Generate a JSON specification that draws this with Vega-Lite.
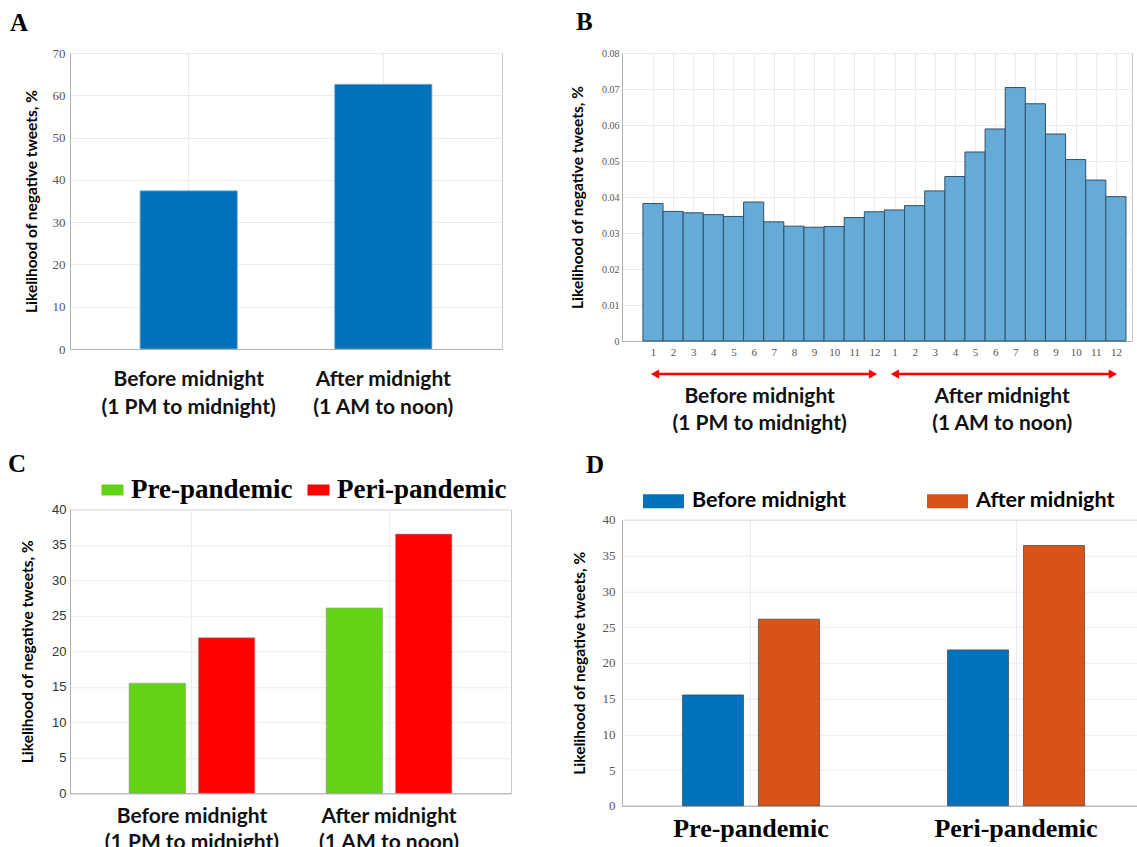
{
  "$schema": "https://vega.github.io/schema/vega-lite/v6.json",
  "background": "white",
  "padding": {"left": 7, "top": 9, "right": 0, "bottom": 0},
  "config": {
    "view": {"stroke": "#c8c8c8", "strokeWidth": 1},
    "axis": {"gridColor": "#ebebeb", "domainColor": "#b0b0b0", "ticks": false, "labelOverlap": false, "labelBound": false, "titleFont": "Lato", "titleFontWeight": "bold", "titleColor": "#000", "titleFontSize": 15.5},
    "title": {"font": "Liberation Serif", "fontWeight": "bold", "fontSize": 25, "color": "#000", "anchor": "start", "frame": "group"}
  },
  "datasets": {
    "overall": [
      {"period": "Before midnight", "likelihood": 37.4},
      {"period": "After midnight", "likelihood": 62.6}
    ],
    "hourly": [
      {"hour": 1, "bin_start": 0.5, "bin_end": 1.5, "likelihood": 0.0382},
      {"hour": 2, "bin_start": 1.5, "bin_end": 2.5, "likelihood": 0.0360},
      {"hour": 3, "bin_start": 2.5, "bin_end": 3.5, "likelihood": 0.0356},
      {"hour": 4, "bin_start": 3.5, "bin_end": 4.5, "likelihood": 0.0351},
      {"hour": 5, "bin_start": 4.5, "bin_end": 5.5, "likelihood": 0.0346},
      {"hour": 6, "bin_start": 5.5, "bin_end": 6.5, "likelihood": 0.0386},
      {"hour": 7, "bin_start": 6.5, "bin_end": 7.5, "likelihood": 0.0331},
      {"hour": 8, "bin_start": 7.5, "bin_end": 8.5, "likelihood": 0.0319},
      {"hour": 9, "bin_start": 8.5, "bin_end": 9.5, "likelihood": 0.0316},
      {"hour": 10, "bin_start": 9.5, "bin_end": 10.5, "likelihood": 0.0318},
      {"hour": 11, "bin_start": 10.5, "bin_end": 11.5, "likelihood": 0.0343},
      {"hour": 12, "bin_start": 11.5, "bin_end": 12.5, "likelihood": 0.0359},
      {"hour": 13, "bin_start": 12.5, "bin_end": 13.5, "likelihood": 0.0364},
      {"hour": 14, "bin_start": 13.5, "bin_end": 14.5, "likelihood": 0.0376},
      {"hour": 15, "bin_start": 14.5, "bin_end": 15.5, "likelihood": 0.0417},
      {"hour": 16, "bin_start": 15.5, "bin_end": 16.5, "likelihood": 0.0457},
      {"hour": 17, "bin_start": 16.5, "bin_end": 17.5, "likelihood": 0.0525},
      {"hour": 18, "bin_start": 17.5, "bin_end": 18.5, "likelihood": 0.0589},
      {"hour": 19, "bin_start": 18.5, "bin_end": 19.5, "likelihood": 0.0704},
      {"hour": 20, "bin_start": 19.5, "bin_end": 20.5, "likelihood": 0.0659},
      {"hour": 21, "bin_start": 20.5, "bin_end": 21.5, "likelihood": 0.0575},
      {"hour": 22, "bin_start": 21.5, "bin_end": 22.5, "likelihood": 0.0504},
      {"hour": 23, "bin_start": 22.5, "bin_end": 23.5, "likelihood": 0.0447},
      {"hour": 24, "bin_start": 23.5, "bin_end": 24.5, "likelihood": 0.0401}
    ],
    "ranges": [
      {"period": "Before midnight", "hours": "(1 PM to midnight)", "from": 1.1, "to": 11.93, "center": 6.3},
      {"period": "After midnight", "hours": "(1 AM to noon)", "from": 13.02, "to": 23.85, "center": 18.35}
    ],
    "pandemic_c": [
      {"period": "Before midnight", "phase": "Pre-pandemic", "likelihood": 15.5},
      {"period": "Before midnight", "phase": "Peri-pandemic", "likelihood": 21.9},
      {"period": "After midnight", "phase": "Pre-pandemic", "likelihood": 26.1},
      {"period": "After midnight", "phase": "Peri-pandemic", "likelihood": 36.5}
    ],
    "pandemic_d": [
      {"phase": "Pre-pandemic", "period": "Before midnight", "likelihood": 15.5},
      {"phase": "Pre-pandemic", "period": "After midnight", "likelihood": 26.1},
      {"phase": "Peri-pandemic", "period": "Before midnight", "likelihood": 21.8},
      {"phase": "Peri-pandemic", "period": "After midnight", "likelihood": 36.4}
    ]
  },
  "spacing": 16,
  "resolve": {"scale": {"color": "independent", "xOffset": "independent", "x": "independent", "y": "independent"}, "legend": {"color": "independent"}},
  "vconcat": [
    {
      "spacing": 67,
      "resolve": {"scale": {"color": "independent", "xOffset": "independent", "x": "independent", "y": "independent"}, "legend": {"color": "independent"}},
      "hconcat": [
        {
          "title": {"text": "A", "dx": -60, "offset": 11},
          "width": 432,
          "height": 296,
          "data": {"name": "overall"},
          "mark": {"type": "bar", "color": "#0072BD", "stroke": "#8fb0cc", "strokeWidth": 0.8},
          "encoding": {
            "x": {
              "field": "period", "type": "nominal", "sort": null,
              "scale": {"paddingInner": 0.5, "paddingOuter": 0.36},
              "axis": {"title": null, "grid": true, "bandPosition": 0.5, "labelAngle": 0, "labelOverlap": false, "labelFont": "Lato", "labelFontWeight": "bold", "labelFontSize": 21, "labelColor": "#111", "labelPadding": 19, "labelLineHeight": 28, "labelLimit": 400,
                "labelExpr": "[datum.label, datum.label == 'Before midnight' ? '(1 PM to midnight)' : '(1 AM to noon)']"}
            },
            "y": {
              "field": "likelihood", "type": "quantitative",
              "scale": {"domain": [0, 70], "nice": false},
              "axis": {"title": "Likelihood of negative tweets, %", "values": [0, 10, 20, 30, 40, 50, 60, 70], "labelOverlap": false, "labelFont": "Liberation Serif", "labelFontSize": 13, "labelColor": "#555", "labelPadding": 5, "titlePadding": 13, "grid": true}
            }
          }
        },
        {
          "title": {"text": "B", "dx": -46, "offset": 13},
          "width": 510,
          "height": 288,
          "layer": [
            {
              "data": {"name": "hourly"},
              "mark": {"type": "bar", "color": "#66AAD7", "stroke": "#2f506b", "strokeWidth": 1},
              "encoding": {
                "x": {
                  "field": "bin_start", "type": "quantitative",
                  "scale": {"domain": [-0.54, 24.8], "nice": false, "zero": false},
                  "axis": {"title": null, "values": [1,2,3,4,5,6,7,8,9,10,11,12,13,14,15,16,17,18,19,20,21,22,23,24], "labelOverlap": false, "labelExpr": "(datum.value - 1) % 12 + 1", "labelFont": "Liberation Serif", "labelFontSize": 11, "labelColor": "#555", "labelPadding": 5, "grid": true}
                },
                "x2": {"field": "bin_end"},
                "y": {
                  "field": "likelihood", "type": "quantitative",
                  "scale": {"domain": [0, 0.08], "nice": false},
                  "axis": {"title": "Likelihood of negative tweets, %", "values": [0, 0.01, 0.02, 0.03, 0.04, 0.05, 0.06, 0.07, 0.08], "labelOverlap": false, "labelExpr": "datum.value == 0 ? '0' : format(datum.value, '.2f')", "labelFont": "Liberation Serif", "labelFontSize": 10, "labelColor": "#555", "labelPadding": 3, "titlePadding": 16, "grid": true}
                },
                "y2": {"datum": 0}
              }
            },
            {
              "data": {"name": "ranges"},
              "mark": {"type": "rule", "color": "#ff0000", "strokeWidth": 2.5},
              "encoding": {
                "x": {"field": "from", "type": "quantitative", "axis": {"title": null, "values": [1,2,3,4,5,6,7,8,9,10,11,12,13,14,15,16,17,18,19,20,21,22,23,24], "labelOverlap": false, "labelExpr": "(datum.value - 1) % 12 + 1", "labelFont": "Liberation Serif", "labelFontSize": 11, "labelColor": "#555", "labelPadding": 5, "grid": true}},
                "x2": {"field": "to"},
                "y": {"datum": -0.0092, "axis": {"title": "Likelihood of negative tweets, %", "values": [0, 0.01, 0.02, 0.03, 0.04, 0.05, 0.06, 0.07, 0.08], "labelOverlap": false, "labelExpr": "datum.value == 0 ? '0' : format(datum.value, '.2f')", "labelFont": "Liberation Serif", "labelFontSize": 10, "labelColor": "#555", "labelPadding": 3, "titlePadding": 16, "grid": true}}
              }
            },
            {
              "data": {"name": "ranges"},
              "mark": {"type": "point", "shape": "triangle-left", "filled": true, "color": "#ff0000", "size": 90, "opacity": 1},
              "encoding": {
                "x": {"field": "from", "type": "quantitative", "axis": {"title": null, "values": [1,2,3,4,5,6,7,8,9,10,11,12,13,14,15,16,17,18,19,20,21,22,23,24], "labelOverlap": false, "labelExpr": "(datum.value - 1) % 12 + 1", "labelFont": "Liberation Serif", "labelFontSize": 11, "labelColor": "#555", "labelPadding": 5, "grid": true}},
                "y": {"datum": -0.0092, "axis": {"title": "Likelihood of negative tweets, %", "values": [0, 0.01, 0.02, 0.03, 0.04, 0.05, 0.06, 0.07, 0.08], "labelOverlap": false, "labelExpr": "datum.value == 0 ? '0' : format(datum.value, '.2f')", "labelFont": "Liberation Serif", "labelFontSize": 10, "labelColor": "#555", "labelPadding": 3, "titlePadding": 16, "grid": true}}
              }
            },
            {
              "data": {"name": "ranges"},
              "mark": {"type": "point", "shape": "triangle-right", "filled": true, "color": "#ff0000", "size": 90, "opacity": 1},
              "encoding": {
                "x": {"field": "to", "type": "quantitative", "axis": {"title": null, "values": [1,2,3,4,5,6,7,8,9,10,11,12,13,14,15,16,17,18,19,20,21,22,23,24], "labelOverlap": false, "labelExpr": "(datum.value - 1) % 12 + 1", "labelFont": "Liberation Serif", "labelFontSize": 11, "labelColor": "#555", "labelPadding": 5, "grid": true}},
                "y": {"datum": -0.0092, "axis": {"title": "Likelihood of negative tweets, %", "values": [0, 0.01, 0.02, 0.03, 0.04, 0.05, 0.06, 0.07, 0.08], "labelOverlap": false, "labelExpr": "datum.value == 0 ? '0' : format(datum.value, '.2f')", "labelFont": "Liberation Serif", "labelFontSize": 10, "labelColor": "#555", "labelPadding": 3, "titlePadding": 16, "grid": true}}
              }
            },
            {
              "data": {"name": "ranges"},
              "mark": {"type": "text", "font": "Lato", "fontWeight": "bold", "fontSize": 21, "baseline": "alphabetic", "color": "#111"},
              "encoding": {
                "x": {"field": "center", "type": "quantitative", "axis": {"title": null, "values": [1,2,3,4,5,6,7,8,9,10,11,12,13,14,15,16,17,18,19,20,21,22,23,24], "labelOverlap": false, "labelExpr": "(datum.value - 1) % 12 + 1", "labelFont": "Liberation Serif", "labelFontSize": 11, "labelColor": "#555", "labelPadding": 5, "grid": true}},
                "y": {"datum": -0.0172, "axis": {"title": "Likelihood of negative tweets, %", "values": [0, 0.01, 0.02, 0.03, 0.04, 0.05, 0.06, 0.07, 0.08], "labelOverlap": false, "labelExpr": "datum.value == 0 ? '0' : format(datum.value, '.2f')", "labelFont": "Liberation Serif", "labelFontSize": 10, "labelColor": "#555", "labelPadding": 3, "titlePadding": 16, "grid": true}},
                "text": {"field": "period"}
              }
            },
            {
              "data": {"name": "ranges"},
              "mark": {"type": "text", "font": "Lato", "fontWeight": "bold", "fontSize": 21, "baseline": "alphabetic", "color": "#111"},
              "encoding": {
                "x": {"field": "center", "type": "quantitative", "axis": {"title": null, "values": [1,2,3,4,5,6,7,8,9,10,11,12,13,14,15,16,17,18,19,20,21,22,23,24], "labelOverlap": false, "labelExpr": "(datum.value - 1) % 12 + 1", "labelFont": "Liberation Serif", "labelFontSize": 11, "labelColor": "#555", "labelPadding": 5, "grid": true}},
                "y": {"datum": -0.0247, "axis": {"title": "Likelihood of negative tweets, %", "values": [0, 0.01, 0.02, 0.03, 0.04, 0.05, 0.06, 0.07, 0.08], "labelOverlap": false, "labelExpr": "datum.value == 0 ? '0' : format(datum.value, '.2f')", "labelFont": "Liberation Serif", "labelFontSize": 10, "labelColor": "#555", "labelPadding": 3, "titlePadding": 16, "grid": true}},
                "text": {"field": "hours"}
              }
            }
          ]
        }
      ]
    },
    {
      "spacing": 59,
      "center": true,
      "resolve": {"scale": {"color": "independent", "xOffset": "independent", "x": "independent", "y": "independent"}, "legend": {"color": "independent"}},
      "hconcat": [
        {
          "title": {"text": "C", "dx": -62, "offset": -1},
          "width": 441,
          "height": 284,
          "data": {"name": "pandemic_c"},
          "mark": {"type": "bar", "stroke": "#9a9a9a", "strokeWidth": 0.6},
          "encoding": {
            "x": {
              "field": "period", "type": "nominal", "sort": null,
              "scale": {"paddingInner": 0.362, "paddingOuter": 0.3},
              "axis": {"title": null, "grid": true, "bandPosition": 0.5, "labelAngle": 0, "labelOverlap": false, "labelFont": "Lato", "labelFontWeight": "bold", "labelFontSize": 21, "labelColor": "#111", "labelPadding": 12, "labelLineHeight": 26, "labelLimit": 400,
                "labelExpr": "[datum.label, datum.label == 'Before midnight' ? '(1 PM to midnight)' : '(1 AM to noon)']"}
            },
            "xOffset": {"field": "phase", "type": "nominal", "sort": ["Pre-pandemic", "Peri-pandemic"], "scale": {"paddingInner": 0.186, "paddingOuter": 0}},
            "y": {
              "field": "likelihood", "type": "quantitative",
              "scale": {"domain": [0, 40], "nice": false},
              "axis": {"title": "Likelihood of negative tweets, %", "values": [0, 5, 10, 15, 20, 25, 30, 35, 40], "labelOverlap": false, "labelFont": "Liberation Sans", "labelFontSize": 13, "labelColor": "#333", "labelPadding": 4, "titlePadding": 16, "grid": true}
            },
            "color": {
              "field": "phase", "type": "nominal",
              "scale": {"domain": ["Pre-pandemic", "Peri-pandemic"], "range": ["#63D316", "#FF0000"]},
              "legend": {"title": null, "orient": "none", "legendX": 29, "legendY": -33, "direction": "horizontal", "padding": 0, "symbolType": "M-1,-0.5H1V0.5H-1Z", "symbolSize": 484, "symbolStrokeWidth": 0, "symbolOpacity": 1, "labelFont": "Liberation Serif", "labelFontWeight": "bold", "labelFontSize": 27, "labelColor": "#000", "labelOffset": 5, "columnPadding": 12, "labelLimit": 400}
            }
          }
        },
        {
          "title": {"text": "D", "dx": -36, "offset": 3},
          "width": 523,
          "height": 286,
          "data": {"name": "pandemic_d"},
          "mark": {"type": "bar", "stroke": "#404040", "strokeWidth": 0.7},
          "encoding": {
            "x": {
              "field": "phase", "type": "nominal", "sort": null,
              "scale": {"paddingInner": 0.483, "paddingOuter": 0.228},
              "axis": {"title": null, "grid": true, "bandPosition": 0.5, "labelAngle": 0, "labelOverlap": false, "labelFont": "Liberation Serif", "labelFontWeight": "bold", "labelFontSize": 26, "labelColor": "#000", "labelPadding": 10, "labelLimit": 400}
            },
            "xOffset": {"field": "period", "type": "nominal", "sort": ["Before midnight", "After midnight"], "scale": {"paddingInner": 0.197, "paddingOuter": 0}},
            "y": {
              "field": "likelihood", "type": "quantitative",
              "scale": {"domain": [0, 40], "nice": false},
              "axis": {"title": "Likelihood of negative tweets, %", "values": [0, 5, 10, 15, 20, 25, 30, 35, 40], "labelOverlap": false, "labelFont": "Liberation Serif", "labelFontSize": 13, "labelColor": "#555", "labelPadding": 7, "titlePadding": 15, "grid": true}
            },
            "color": {
              "field": "period", "type": "nominal",
              "scale": {"domain": ["Before midnight", "After midnight"], "range": ["#0072BD", "#D95319"]},
              "legend": {"title": null, "orient": "none", "legendX": 21, "legendY": -39, "direction": "horizontal", "padding": 0, "symbolType": "M-1,-0.34H1V0.34H-1Z", "symbolSize": 1681, "symbolStrokeWidth": 0, "symbolOpacity": 1, "labelFont": "Lato", "labelFontWeight": "bold", "labelFontSize": 21.5, "labelColor": "#000", "labelOffset": 8, "columnPadding": 80, "labelLimit": 400}
            }
          }
        }
      ]
    }
  ]
}
